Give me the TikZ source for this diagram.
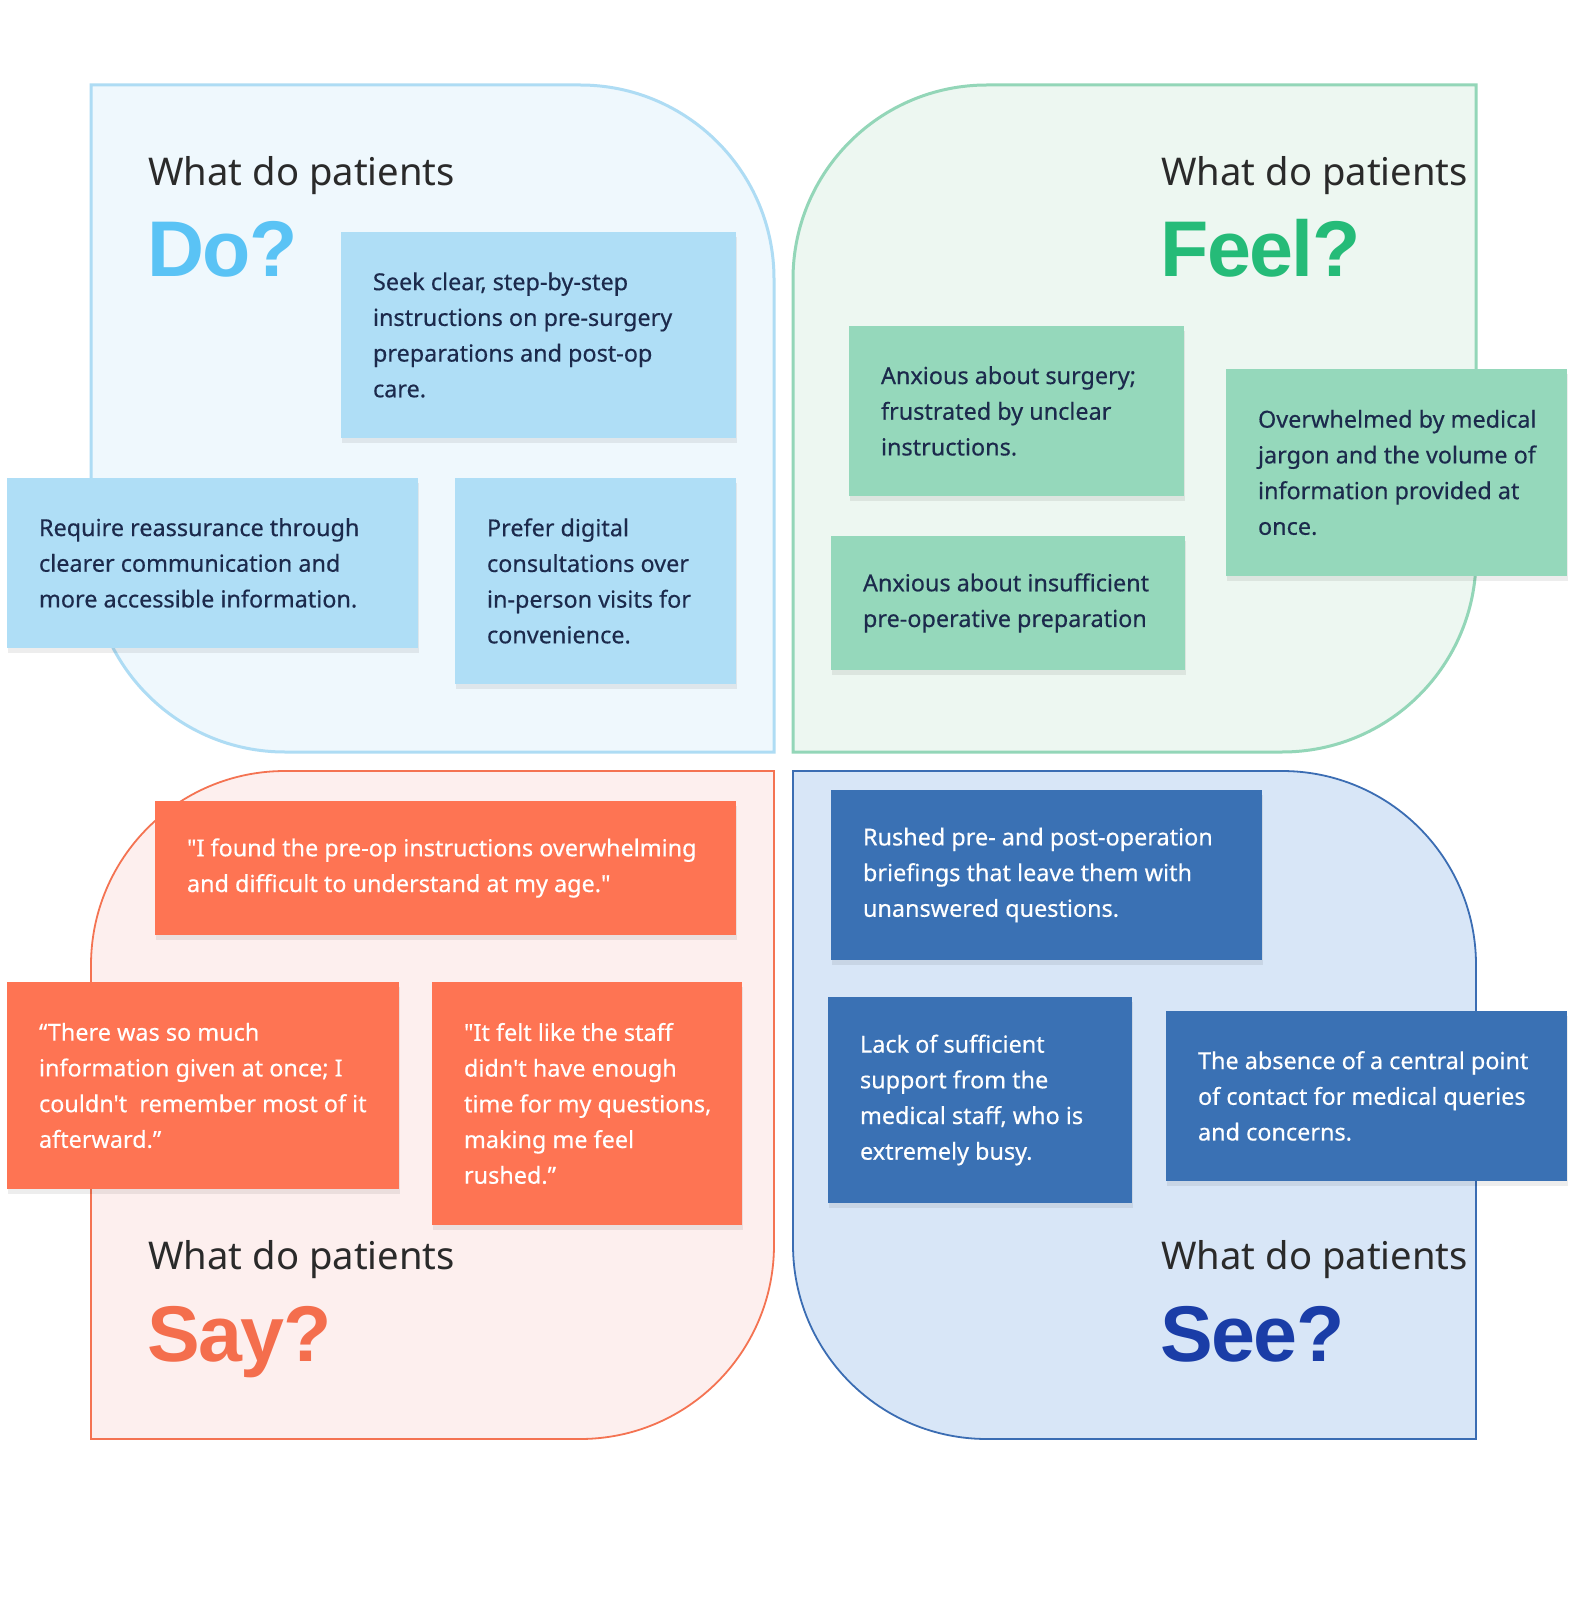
\documentclass[tikz,border=0pt]{standalone}
\usepackage{fontspec}
\setmainfont{Noto Sans}
\newfontfamily\cardfont{Noto Sans}[Ligatures=TeXOff, FakeBold=0.4]
\newfontfamily\heavyfont{Liberation Sans}[LetterSpace=-2]
\usetikzlibrary{shadows}
\definecolor{doLine}{HTML}{AEDCF4}
\definecolor{doFill}{HTML}{EFF8FD}
\definecolor{doCard}{HTML}{AFDEF6}
\definecolor{doHead}{HTML}{5AC3F5}
\definecolor{feelLine}{HTML}{93D6B8}
\definecolor{feelFill}{HTML}{EDF7F1}
\definecolor{feelCard}{HTML}{95D8BB}
\definecolor{feelHead}{HTML}{25BB78}
\definecolor{sayLine}{HTML}{F47352}
\definecolor{sayFill}{HTML}{FDEFEE}
\definecolor{sayCard}{HTML}{FE7453}
\definecolor{sayHead}{HTML}{F46E4D}
\definecolor{seeLine}{HTML}{3B6DB3}
\definecolor{seeFill}{HTML}{D8E6F7}
\definecolor{seeCard}{HTML}{3A71B4}
\definecolor{seeHead}{HTML}{1A3DA7}
\definecolor{ink}{HTML}{1C2A4C}
\definecolor{headInk}{HTML}{2A2A2A}
\tikzset{
  card/.style={rectangle, inner sep=0pt, draw=none,
    drop shadow={shadow xshift=0.3pt, shadow yshift=-2.5pt, opacity=0.07, fill=black}},
  cardtext/.style={anchor=west, inner sep=0pt, align=left,
    font=\cardfont\fontsize{11.7}{17.85}\selectfont},
  darktext/.style={cardtext, text=ink},
  lighttext/.style={cardtext, text=white},
  question/.style={inner sep=0pt, text=headInk, font=\fontsize{19.1}{22}\selectfont},
  bigword/.style={inner sep=0pt, anchor=base west, font=\heavyfont\bfseries\fontsize{39.5}{48}\selectfont},
}
\begin{document}
\begin{tikzpicture}[x=0.5pt,y=-0.5pt]
\useasboundingbox (0,0) rectangle (1568,1598);
\fill[white] (0,0) rectangle (1568,1598);

% ---------- panels ----------
\filldraw[fill=doFill, draw=doLine, line width=1.5pt]
  (91,85) -- (580,85) arc[start angle=-90, end angle=0, radius=194]
  -- (774,752) -- (285,752) arc[start angle=90, end angle=180, radius=194] -- cycle;
\filldraw[fill=feelFill, draw=feelLine, line width=1.5pt]
  (793,279) arc[start angle=180, end angle=270, radius=194]
  -- (1476,85) -- (1476,558) arc[start angle=0, end angle=90, radius=194]
  -- (793,752) -- cycle;
\filldraw[fill=sayFill, draw=sayLine, line width=0.9pt]
  (91,965) arc[start angle=180, end angle=270, radius=194]
  -- (774,771) -- (774,1245) arc[start angle=0, end angle=90, radius=194]
  -- (91,1439) -- cycle;
\filldraw[fill=seeFill, draw=seeLine, line width=0.9pt]
  (793,771) -- (1282,771) arc[start angle=-90, end angle=0, radius=194]
  -- (1476,1439) -- (987,1439) arc[start angle=90, end angle=180, radius=194] -- cycle;

% ---------- headings ----------
\node[question, anchor=base west] (doq) at (148,186) {What do patients};
\node[bigword, text=doHead] (doword) at (147,277) {Do?};
\node[question, anchor=base west] (feelq) at (1161,186) {What do patients};
\node[bigword, text=feelHead] (feelword) at (1160,277) {Feel?};
\node[question, anchor=base west] (sayq) at (148,1269) {What do patients};
\node[bigword, text=sayHead] (sayword) at (147,1361) {Say?};
\node[question, anchor=base west] (seeq) at (1161,1269) {What do patients};
\node[bigword, text=seeHead] (seeword) at (1160,1361) {See?};

% ---------- Do cards ----------
\node[card, fill=doCard, minimum width=197.5pt, minimum height=103pt] (do1) at (538.5,335) {};
\node[darktext, xshift=16pt] (do1t) at (do1.west) {Seek clear, step-by-step\\instructions on pre-surgery\\preparations and post-op\\care.};
\node[card, fill=doCard, minimum width=205.5pt, minimum height=85pt] (do2) at (212.5,563) {};
\node[darktext, xshift=16pt] (do2t) at (do2.west) {Require reassurance through\\clearer communication and\\more accessible information.};
\node[card, fill=doCard, minimum width=140.5pt, minimum height=103pt] (do3) at (595.5,581) {};
\node[darktext, xshift=16pt] (do3t) at (do3.west) {Prefer digital\\consultations over\\in-person visits for\\convenience.};

% ---------- Feel cards ----------
\node[card, fill=feelCard, minimum width=167.5pt, minimum height=85pt] (feel1) at (1016.5,411) {};
\node[darktext, xshift=16pt] (feel1t) at (feel1.west) {Anxious about surgery;\\frustrated by unclear\\instructions.};
\node[card, fill=feelCard, minimum width=170.5pt, minimum height=103.5pt] (feel2) at (1396.5,472.5) {};
\node[darktext, xshift=16pt] (feel2t) at (feel2.west) {Overwhelmed by medical\\jargon and the volume of\\information provided at\\once.};
\node[card, fill=feelCard, minimum width=177pt, minimum height=67pt] (feel3) at (1008,603) {};
\node[darktext, xshift=16pt] (feel3t) at (feel3.west) {Anxious about insufficient\\pre-operative preparation};

% ---------- Say cards ----------
\node[card, fill=sayCard, minimum width=290.5pt, minimum height=67pt] (say1) at (445.5,868) {};
\node[lighttext, xshift=16pt] (say1t) at (say1.west) {"I found the pre-op instructions overwhelming\\and difficult to understand at my age."};
\node[card, fill=sayCard, minimum width=196pt, minimum height=103.5pt] (say2) at (203,1085.5) {};
\node[lighttext, xshift=16pt] (say2t) at (say2.west) {“There was so much\\information given at once; I\\couldn't\ \ remember most of it\\afterward.”};
\node[card, fill=sayCard, minimum width=155pt, minimum height=121.5pt] (say3) at (587,1103.5) {};
\node[lighttext, xshift=16pt] (say3t) at (say3.west) {"It felt like the staff\\didn't have enough\\time for my questions,\\making me feel\\rushed.”};

% ---------- See cards ----------
\node[card, fill=seeCard, minimum width=215.5pt, minimum height=85pt] (see1) at (1046.5,875) {};
\node[lighttext, xshift=16pt] (see1t) at (see1.west) {Rushed pre- and post-operation\\briefings that leave them with\\unanswered questions.};
\node[card, fill=seeCard, minimum width=152pt, minimum height=103pt] (see2) at (980,1100) {};
\node[lighttext, xshift=16pt] (see2t) at (see2.west) {Lack of sufficient\\support from the\\medical staff, who is\\extremely busy.};
\node[card, fill=seeCard, minimum width=200.5pt, minimum height=85pt] (see3) at (1366.5,1096) {};
\node[lighttext, xshift=16pt] (see3t) at (see3.west) {The absence of a central point\\of contact for medical queries\\and concerns.};
\end{tikzpicture}
\end{document}
